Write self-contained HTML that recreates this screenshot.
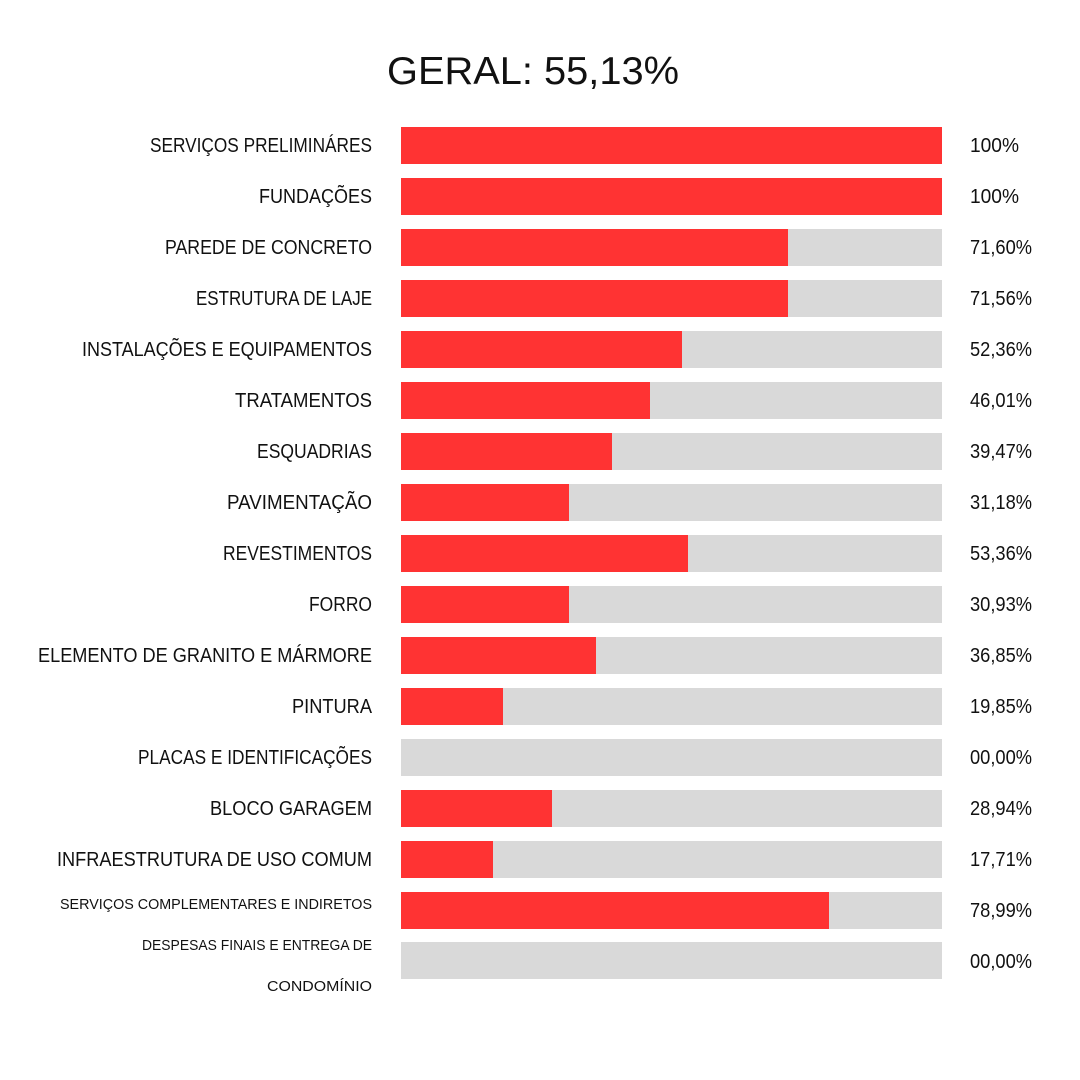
<!DOCTYPE html>
<html><head><meta charset="utf-8"><style>html,body{margin:0;padding:0;background:#fff}svg{display:block}text{font-family:"Liberation Sans",sans-serif;fill:#111}</style></head>
<body>
<svg width="1080" height="1080" viewBox="0 0 1080 1080" xmlns="http://www.w3.org/2000/svg">
<rect width="1080" height="1080" fill="#fff"/>
<text x="387" y="84" font-size="39" textLength="292" lengthAdjust="spacingAndGlyphs">GERAL: 55,13%</text>
<g id="bars">
<!-- row pitch 50.94, top 127, h 37 -->
<rect x="401" y="127" width="541" height="37" fill="#d9d9d9"/><rect x="401" y="127" width="541" height="37" fill="#ff3333"/>
<rect x="401" y="178" width="541" height="37" fill="#d9d9d9"/><rect x="401" y="178" width="541" height="37" fill="#ff3333"/>
<rect x="401" y="229" width="541" height="37" fill="#d9d9d9"/><rect x="401" y="229" width="387" height="37" fill="#ff3333"/>
<rect x="401" y="280" width="541" height="37" fill="#d9d9d9"/><rect x="401" y="280" width="387" height="37" fill="#ff3333"/>
<rect x="401" y="331" width="541" height="37" fill="#d9d9d9"/><rect x="401" y="331" width="281" height="37" fill="#ff3333"/>
<rect x="401" y="382" width="541" height="37" fill="#d9d9d9"/><rect x="401" y="382" width="249" height="37" fill="#ff3333"/>
<rect x="401" y="433" width="541" height="37" fill="#d9d9d9"/><rect x="401" y="433" width="211" height="37" fill="#ff3333"/>
<rect x="401" y="484" width="541" height="37" fill="#d9d9d9"/><rect x="401" y="484" width="168" height="37" fill="#ff3333"/>
<rect x="401" y="535" width="541" height="37" fill="#d9d9d9"/><rect x="401" y="535" width="287" height="37" fill="#ff3333"/>
<rect x="401" y="586" width="541" height="37" fill="#d9d9d9"/><rect x="401" y="586" width="168" height="37" fill="#ff3333"/>
<rect x="401" y="637" width="541" height="37" fill="#d9d9d9"/><rect x="401" y="637" width="195" height="37" fill="#ff3333"/>
<rect x="401" y="688" width="541" height="37" fill="#d9d9d9"/><rect x="401" y="688" width="102" height="37" fill="#ff3333"/>
<rect x="401" y="739" width="541" height="37" fill="#d9d9d9"/>
<rect x="401" y="790" width="541" height="37" fill="#d9d9d9"/><rect x="401" y="790" width="151" height="37" fill="#ff3333"/>
<rect x="401" y="841" width="541" height="37" fill="#d9d9d9"/><rect x="401" y="841" width="92" height="37" fill="#ff3333"/>
<rect x="401" y="892" width="541" height="37" fill="#d9d9d9"/><rect x="401" y="892" width="428" height="37" fill="#ff3333"/>
<rect x="401" y="942" width="541" height="37" fill="#d9d9d9"/>
</g>
<g font-size="20" text-anchor="end">
<text x="372" y="152" textLength="222" lengthAdjust="spacingAndGlyphs">SERVIÇOS PRELIMINÁRES</text>
<text x="372" y="203" textLength="113" lengthAdjust="spacingAndGlyphs">FUNDAÇÕES</text>
<text x="372" y="254" textLength="207" lengthAdjust="spacingAndGlyphs">PAREDE DE CONCRETO</text>
<text x="372" y="305" textLength="176" lengthAdjust="spacingAndGlyphs">ESTRUTURA DE LAJE</text>
<text x="372" y="356" textLength="290" lengthAdjust="spacingAndGlyphs">INSTALAÇÕES E EQUIPAMENTOS</text>
<text x="372" y="407" textLength="137" lengthAdjust="spacingAndGlyphs">TRATAMENTOS</text>
<text x="372" y="458" textLength="115" lengthAdjust="spacingAndGlyphs">ESQUADRIAS</text>
<text x="372" y="509" textLength="145" lengthAdjust="spacingAndGlyphs">PAVIMENTAÇÃO</text>
<text x="372" y="560" textLength="149" lengthAdjust="spacingAndGlyphs">REVESTIMENTOS</text>
<text x="372" y="611" textLength="63" lengthAdjust="spacingAndGlyphs">FORRO</text>
<text x="372" y="662" textLength="334" lengthAdjust="spacingAndGlyphs">ELEMENTO DE GRANITO E MÁRMORE</text>
<text x="372" y="713" textLength="80" lengthAdjust="spacingAndGlyphs">PINTURA</text>
<text x="372" y="764" textLength="234" lengthAdjust="spacingAndGlyphs">PLACAS E IDENTIFICAÇÕES</text>
<text x="372" y="815" textLength="162" lengthAdjust="spacingAndGlyphs">BLOCO GARAGEM</text>
<text x="372" y="866" textLength="315" lengthAdjust="spacingAndGlyphs">INFRAESTRUTURA DE USO COMUM</text>
</g>
<g font-size="15" text-anchor="end">
<text x="372" y="909" textLength="312" lengthAdjust="spacingAndGlyphs">SERVIÇOS COMPLEMENTARES E INDIRETOS</text>
<text x="372" y="950" textLength="230" lengthAdjust="spacingAndGlyphs">DESPESAS FINAIS E ENTREGA DE</text>
<text x="372" y="991" textLength="105" lengthAdjust="spacingAndGlyphs">CONDOMÍNIO</text>
</g>
<g font-size="20">
<text x="970" y="152" textLength="49" lengthAdjust="spacingAndGlyphs">100%</text>
<text x="970" y="203" textLength="49" lengthAdjust="spacingAndGlyphs">100%</text>
<text x="970" y="254" textLength="62" lengthAdjust="spacingAndGlyphs">71,60%</text>
<text x="970" y="305" textLength="62" lengthAdjust="spacingAndGlyphs">71,56%</text>
<text x="970" y="356" textLength="62" lengthAdjust="spacingAndGlyphs">52,36%</text>
<text x="970" y="407" textLength="62" lengthAdjust="spacingAndGlyphs">46,01%</text>
<text x="970" y="458" textLength="62" lengthAdjust="spacingAndGlyphs">39,47%</text>
<text x="970" y="509" textLength="62" lengthAdjust="spacingAndGlyphs">31,18%</text>
<text x="970" y="560" textLength="62" lengthAdjust="spacingAndGlyphs">53,36%</text>
<text x="970" y="611" textLength="62" lengthAdjust="spacingAndGlyphs">30,93%</text>
<text x="970" y="662" textLength="62" lengthAdjust="spacingAndGlyphs">36,85%</text>
<text x="970" y="713" textLength="62" lengthAdjust="spacingAndGlyphs">19,85%</text>
<text x="970" y="764" textLength="62" lengthAdjust="spacingAndGlyphs">00,00%</text>
<text x="970" y="815" textLength="62" lengthAdjust="spacingAndGlyphs">28,94%</text>
<text x="970" y="866" textLength="62" lengthAdjust="spacingAndGlyphs">17,71%</text>
<text x="970" y="917" textLength="62" lengthAdjust="spacingAndGlyphs">78,99%</text>
<text x="970" y="968" textLength="62" lengthAdjust="spacingAndGlyphs">00,00%</text>
</g>
</svg>
</body></html>
